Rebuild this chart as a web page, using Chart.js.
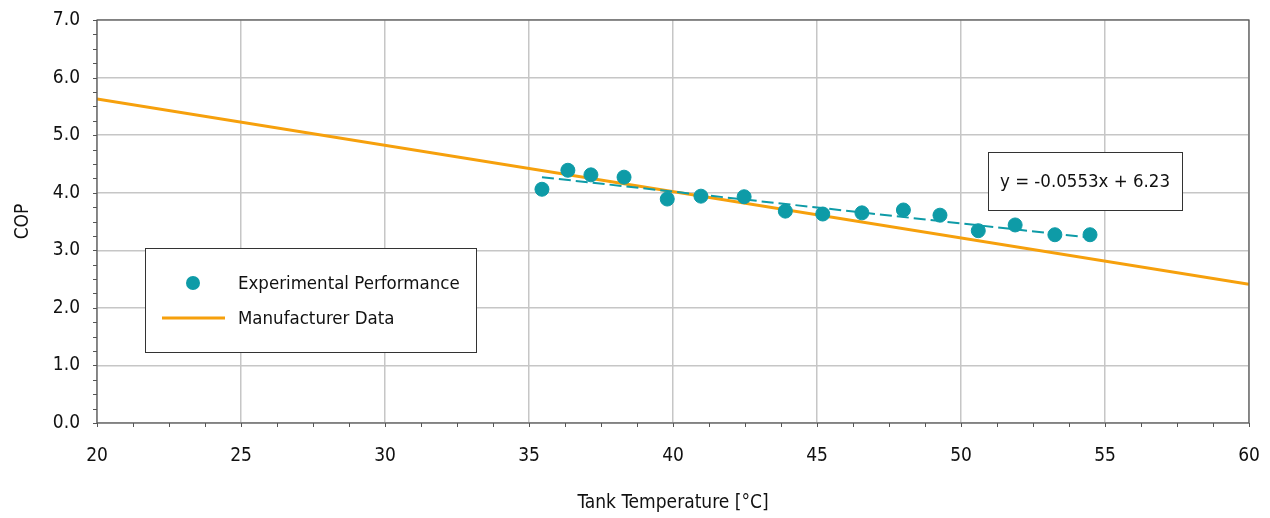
<!DOCTYPE html>
<html>
<head>
<meta charset="utf-8">
<script src="https://cdn.jsdelivr.net/npm/chart.js@4.4.0/dist/chart.umd.min.js"></script>
<style>
  html, body { margin: 0; padding: 0; background: #fff; }
  #wrap { width: 1270px; height: 518px; position: relative; }
</style>
</head>
<body>
<div id="wrap"><canvas id="cop-chart"></canvas></div>
<script>
// data
const expTemp = [35.45, 36.35, 37.15, 38.3, 39.8, 40.97, 42.47, 43.9, 45.2, 46.56, 48.0, 49.27, 50.6, 51.88, 53.26, 54.48];
const expCop = [4.06, 4.39, 4.31, 4.27, 3.89, 3.94, 3.93, 3.68, 3.63, 3.65, 3.70, 3.61, 3.34, 3.44, 3.27, 3.27];
const trendTemp = [35.45, 54.48];
const trendCop = [4.27, 3.22];
const mfrTemp = [20, 60];
const mfrCop = [5.63, 2.41];
const trendLabel = 'y = -0.0553x + 6.23';

const TEAL = '#0e9ba7';
const ORANGE = '#f6a00c';
const FONT = "'Liberation Sans Narrow', 'DejaVu Sans Condensed', 'Roboto Condensed', sans-serif";

const toXY = (xs, ys) => xs.map((x, i) => ({ x: x, y: ys[i] }));

// frame, minor ticks, legend box and equation box
const decorPlugin = {
    id: 'decor',
    afterDraw(chart) {
        const { ctx, chartArea: a, scales } = chart;
        const xs = scales.x, ys = scales.y;
        ctx.save();
        ctx.strokeStyle = '#555';
        ctx.lineWidth = 1.2;
        ctx.strokeRect(a.left, a.top, a.right - a.left, a.bottom - a.top);

        ctx.beginPath();
        for (let v = 0; v <= 7.0001; v += 0.25) {
            const y = Math.round(ys.getPixelForValue(v)) + 0.5;
            ctx.moveTo(a.left - 4, y);
            ctx.lineTo(a.left, y);
        }
        for (let v = 20; v <= 60.001; v += 1.25) {
            const x = Math.round(xs.getPixelForValue(v)) + 0.5;
            ctx.moveTo(x, a.bottom);
            ctx.lineTo(x, a.bottom + 4);
        }
        ctx.lineWidth = 1;
        ctx.stroke();

        // legend
        ctx.fillStyle = '#fff';
        ctx.fillRect(145, 248, 331, 104);
        ctx.strokeStyle = '#333';
        ctx.lineWidth = 1;
        ctx.strokeRect(145.5, 248.5, 331, 104);
        ctx.fillStyle = TEAL;
        ctx.beginPath();
        ctx.arc(193, 283, 7, 0, Math.PI * 2);
        ctx.fill();
        ctx.strokeStyle = ORANGE;
        ctx.lineWidth = 3;
        ctx.beginPath();
        ctx.moveTo(162, 318);
        ctx.lineTo(225, 318);
        ctx.stroke();
        ctx.fillStyle = '#111';
        ctx.font = '18.5px ' + FONT;
        ctx.textBaseline = 'middle';
        ctx.textAlign = 'left';
        ctx.fillText('Experimental Performance', 238, 284);
        ctx.fillText('Manufacturer Data', 238, 319);

        // trend equation
        ctx.fillStyle = '#fff';
        ctx.fillRect(988, 152, 194, 58);
        ctx.strokeStyle = '#333';
        ctx.lineWidth = 1;
        ctx.strokeRect(988.5, 152.5, 194, 58);
        ctx.fillStyle = '#111';
        ctx.textAlign = 'center';
        ctx.fillText(trendLabel, 1085, 182);
        ctx.restore();
    }
};

new Chart(document.getElementById('cop-chart').getContext('2d'), {
    type: 'scatter',
    data: {
        datasets: [
            {
                label: 'Experimental Performance',
                data: toXY(expTemp, expCop),
                backgroundColor: TEAL,
                borderColor: TEAL,
                pointRadius: 7,
                pointHoverRadius: 7,
                order: 1
            },
            {
                label: 'Trend',
                data: toXY(trendTemp, trendCop),
                showLine: true,
                borderColor: TEAL,
                borderWidth: 2,
                borderDash: [12, 5],
                pointRadius: 0,
                order: 2
            },
            {
                label: 'Manufacturer Data',
                data: toXY(mfrTemp, mfrCop),
                showLine: true,
                borderColor: ORANGE,
                borderWidth: 3,
                pointRadius: 0,
                order: 3
            }
        ]
    },
    options: {
        responsive: true,
        maintainAspectRatio: false,
        animation: false,
        layout: { padding: { left: 0, right: 21, top: 20, bottom: 0 } },
        plugins: {
            legend: { display: false },
            tooltip: { enabled: false }
        },
        scales: {
            x: {
                min: 20,
                max: 60,
                afterFit: (s) => { s.height = 95; s.paddingLeft = 0; s.paddingRight = 0; },
                ticks: {
                    stepSize: 5,
                    padding: 22,
                    color: '#111',
                    font: { family: FONT, size: 19 }
                },
                grid: { color: '#c6c6c6', lineWidth: 1.5, drawTicks: false },
                border: { display: false },
                title: {
                    display: true,
                    text: 'Tank Temperature [°C]',
                    color: '#111',
                    font: { family: FONT, size: 19 },
                    padding: { top: 20 }
                }
            },
            y: {
                min: 0,
                max: 7,
                afterFit: (s) => { s.width = 97; s.paddingTop = 0; s.paddingBottom = 0; },
                ticks: {
                    stepSize: 1,
                    padding: 17,
                    color: '#111',
                    font: { family: FONT, size: 19 },
                    callback: (v) => Number(v).toFixed(1)
                },
                grid: { color: '#c6c6c6', lineWidth: 1.5, drawTicks: false },
                border: { display: false },
                title: {
                    display: true,
                    text: 'COP',
                    color: '#111',
                    font: { family: FONT, size: 19 },
                    padding: { top: 12, bottom: 0 }
                }
            }
        }
    },
    plugins: [decorPlugin]
});
</script>
</body>
</html>
